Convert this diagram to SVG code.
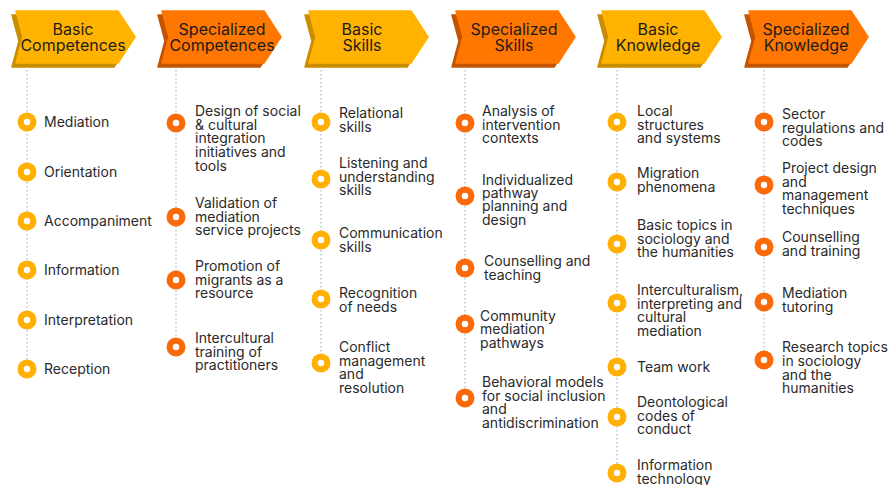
<svg xmlns="http://www.w3.org/2000/svg" xmlns:xlink="http://www.w3.org/1999/xlink" width="888" height="485" viewBox="0 0 888 485">
  <style>
    .hdr { font-family: Inter, "Liberation Sans", sans-serif; font-size: 16px; fill: #1c1c1c; text-anchor: middle; }
    .item { font-family: Inter, "Liberation Sans", sans-serif; font-size: 14px; fill: #2a2a2a; }
    .basic-front { fill: #FFB300; stroke: #FFB300; }
    .basic-back { fill: #C98D00; stroke: #C98D00; }
    .spec-front { fill: #FF7700; stroke: #FF7700; }
    .spec-back { fill: #C45400; stroke: #C45400; }
    .hshape { stroke-width: 1.5; stroke-linejoin: round; }
    .rail { stroke: #C3C6DA; stroke-width: 1.6; stroke-dasharray: 1.6 2.4; fill: none; }
    .dot-basic { fill: #FFB000; }
    .dot-spec { fill: #FA6A0A; }
    .hole { fill: #ffffff; }
  </style>
  <defs>
    <!-- chevron banner: front face and its darker extruded side -->
    <path id="front" d="M4,11 H106 L123,37 L106,63 H4 L11,37 Z"/>
    <path id="back" d="M0,15 H102 L119,41 L102,67 H0 L7,41 Z"/>
    <g id="bullet-basic"><circle r="9.5" class="dot-basic"/><circle r="3.2" class="hole"/></g>
    <g id="bullet-spec"><circle r="9.5" class="dot-spec"/><circle r="3.2" class="hole"/></g>
  </defs>
  <rect width="888" height="485" fill="#ffffff"/>

  <!-- dotted timelines -->
  <g id="connectors">
    <line class="rail" x1="27" y1="70" x2="27" y2="369"/>
    <line class="rail" x1="176" y1="70" x2="176" y2="347"/>
    <line class="rail" x1="321" y1="70" x2="321" y2="363"/>
    <line class="rail" x1="465" y1="70" x2="465" y2="398"/>
    <line class="rail" x1="617" y1="70" x2="617" y2="473"/>
    <line class="rail" x1="764" y1="70" x2="764" y2="360"/>
  </g>

  <!-- headers -->
  <g id="hdr-basic-competences">
    <use xlink:href="#back" x="12" class="hshape basic-back"/>
    <use xlink:href="#front" x="12" class="hshape basic-front"/>
    <text class="hdr" x="73" y="35">Basic</text>
    <text class="hdr" x="73" y="50.5">Competences</text>
  </g>
  <g id="hdr-specialized-competences">
    <use xlink:href="#back" x="158" class="hshape spec-back"/>
    <use xlink:href="#front" x="158" class="hshape spec-front"/>
    <text class="hdr" x="222" y="35">Specialized</text>
    <text class="hdr" x="222" y="50.5">Competences</text>
  </g>
  <g id="hdr-basic-skills">
    <use xlink:href="#back" x="305" class="hshape basic-back"/>
    <use xlink:href="#front" x="305" class="hshape basic-front"/>
    <text class="hdr" x="362" y="35">Basic</text>
    <text class="hdr" x="362" y="50.5">Skills</text>
  </g>
  <g id="hdr-specialized-skills">
    <use xlink:href="#back" x="452" class="hshape spec-back"/>
    <use xlink:href="#front" x="452" class="hshape spec-front"/>
    <text class="hdr" x="514" y="35">Specialized</text>
    <text class="hdr" x="514" y="50.5">Skills</text>
  </g>
  <g id="hdr-basic-knowledge">
    <use xlink:href="#back" x="598" class="hshape basic-back"/>
    <use xlink:href="#front" x="598" class="hshape basic-front"/>
    <text class="hdr" x="658" y="35">Basic</text>
    <text class="hdr" x="658" y="50.5">Knowledge</text>
  </g>
  <g id="hdr-specialized-knowledge">
    <use xlink:href="#back" x="745" class="hshape spec-back"/>
    <use xlink:href="#front" x="745" class="hshape spec-front"/>
    <text class="hdr" x="806" y="35">Specialized</text>
    <text class="hdr" x="806" y="50.5">Knowledge</text>
  </g>

  <!-- Basic Competences items -->
  <g id="bc-items">
    <use xlink:href="#bullet-basic" x="27" y="122"/>
    <text class="item" x="44" y="127">Mediation</text>
    <use xlink:href="#bullet-basic" x="27" y="172"/>
    <text class="item" x="44" y="177">Orientation</text>
    <use xlink:href="#bullet-basic" x="27" y="221"/>
    <text class="item" x="44" y="226">Accompaniment</text>
    <use xlink:href="#bullet-basic" x="27" y="270"/>
    <text class="item" x="44" y="275">Information</text>
    <use xlink:href="#bullet-basic" x="27" y="320"/>
    <text class="item" x="44" y="325">Interpretation</text>
    <use xlink:href="#bullet-basic" x="27" y="369"/>
    <text class="item" x="44" y="374">Reception</text>
  </g>

  <!-- Specialized Competences items -->
  <g id="sc-items">
    <use xlink:href="#bullet-spec" x="176" y="123"/>
    <text class="item" x="195" y="116">Design of social<tspan x="195" dy="13.7">&amp; cultural</tspan><tspan x="195" dy="13.7">integration</tspan><tspan x="195" dy="13.7">initiatives and</tspan><tspan x="195" dy="13.7">tools</tspan></text>
    <use xlink:href="#bullet-spec" x="176" y="217"/>
    <text class="item" x="195" y="208">Validation of<tspan x="195" dy="13.7">mediation</tspan><tspan x="195" dy="13.7">service projects</tspan></text>
    <use xlink:href="#bullet-spec" x="176" y="280"/>
    <text class="item" x="195" y="271">Promotion of<tspan x="195" dy="13.7">migrants as a</tspan><tspan x="195" dy="13.7">resource</tspan></text>
    <use xlink:href="#bullet-spec" x="176" y="347"/>
    <text class="item" x="195" y="343">Intercultural<tspan x="195" dy="13.7">training of</tspan><tspan x="195" dy="13.7">practitioners</tspan></text>
  </g>

  <!-- Basic Skills items -->
  <g id="bs-items">
    <use xlink:href="#bullet-basic" x="321" y="122"/>
    <text class="item" x="339" y="118">Relational<tspan x="339" dy="13.7">skills</tspan></text>
    <use xlink:href="#bullet-basic" x="321" y="179"/>
    <text class="item" x="339" y="168">Listening and<tspan x="339" dy="13.7">understanding</tspan><tspan x="339" dy="13.7">skills</tspan></text>
    <use xlink:href="#bullet-basic" x="321" y="240"/>
    <text class="item" x="339" y="238">Communication<tspan x="339" dy="13.7">skills</tspan></text>
    <use xlink:href="#bullet-basic" x="321" y="299"/>
    <text class="item" x="339" y="298">Recognition<tspan x="339" dy="13.7">of needs</tspan></text>
    <use xlink:href="#bullet-basic" x="321" y="363"/>
    <text class="item" x="339" y="352">Conflict<tspan x="339" dy="13.7">management</tspan><tspan x="339" dy="13.7">and</tspan><tspan x="339" dy="13.7">resolution</tspan></text>
  </g>

  <!-- Specialized Skills items -->
  <g id="ss-items">
    <use xlink:href="#bullet-spec" x="465" y="123"/>
    <text class="item" x="482" y="116">Analysis of<tspan x="482" dy="13.7">intervention</tspan><tspan x="482" dy="13.7">contexts</tspan></text>
    <use xlink:href="#bullet-spec" x="465" y="196"/>
    <text class="item" x="482" y="185">Individualized<tspan x="482" dy="13.2">pathway</tspan><tspan x="482" dy="13.2">planning and</tspan><tspan x="482" dy="13.2">design</tspan></text>
    <use xlink:href="#bullet-spec" x="465" y="268"/>
    <text class="item" x="484" y="266">Counselling and<tspan x="484" dy="13.7">teaching</tspan></text>
    <use xlink:href="#bullet-spec" x="465" y="324"/>
    <text class="item" x="480" y="321">Community<tspan x="480" dy="13">mediation</tspan><tspan x="480" dy="13.7">pathways</tspan></text>
    <use xlink:href="#bullet-spec" x="465" y="398"/>
    <text class="item" x="482" y="387">Behavioral models<tspan x="482" dy="13.5">for social inclusion</tspan><tspan x="482" dy="13.5">and</tspan><tspan x="482" dy="13.5">antidiscrimination</tspan></text>
  </g>

  <!-- Basic Knowledge items -->
  <g id="bk-items">
    <use xlink:href="#bullet-basic" x="617" y="122"/>
    <text class="item" x="637" y="116">Local<tspan x="637" dy="13.7">structures</tspan><tspan x="637" dy="13.7">and systems</tspan></text>
    <use xlink:href="#bullet-basic" x="617" y="182"/>
    <text class="item" x="637" y="178">Migration<tspan x="637" dy="13.7">phenomena</tspan></text>
    <use xlink:href="#bullet-basic" x="617" y="244"/>
    <text class="item" x="637" y="230">Basic topics in<tspan x="637" dy="13.7">sociology and</tspan><tspan x="637" dy="13.7">the humanities</tspan></text>
    <use xlink:href="#bullet-basic" x="617" y="303"/>
    <text class="item" x="637" y="295">Interculturalism,<tspan x="637" dy="13.5">interpreting and</tspan><tspan x="637" dy="13.5">cultural</tspan><tspan x="637" dy="13.5">mediation</tspan></text>
    <use xlink:href="#bullet-basic" x="617" y="367"/>
    <text class="item" x="637" y="372">Team work</text>
    <use xlink:href="#bullet-basic" x="617" y="417"/>
    <text class="item" x="637" y="407">Deontological<tspan x="637" dy="13.5">codes of</tspan><tspan x="637" dy="13.5">conduct</tspan></text>
    <use xlink:href="#bullet-basic" x="617" y="473"/>
    <text class="item" x="637" y="470">Information<tspan x="637" dy="13.5">technology</tspan></text>
  </g>

  <!-- Specialized Knowledge items -->
  <g id="sk-items">
    <use xlink:href="#bullet-spec" x="764" y="122"/>
    <text class="item" x="782" y="119">Sector<tspan x="782" dy="13.7">regulations and</tspan><tspan x="782" dy="13.7">codes</tspan></text>
    <use xlink:href="#bullet-spec" x="764" y="185"/>
    <text class="item" x="782" y="173">Project design<tspan x="782" dy="13.7">and</tspan><tspan x="782" dy="13.7">management</tspan><tspan x="782" dy="13.7">techniques</tspan></text>
    <use xlink:href="#bullet-spec" x="764" y="247"/>
    <text class="item" x="782" y="242">Counselling<tspan x="782" dy="14.3">and training</tspan></text>
    <use xlink:href="#bullet-spec" x="764" y="302"/>
    <text class="item" x="782" y="298">Mediation<tspan x="782" dy="14">tutoring</tspan></text>
    <use xlink:href="#bullet-spec" x="764" y="360"/>
    <text class="item" x="782" y="352">Research topics<tspan x="782" dy="13.8">in sociology</tspan><tspan x="782" dy="13.8">and the</tspan><tspan x="782" dy="13.8">humanities</tspan></text>
  </g>
</svg>
